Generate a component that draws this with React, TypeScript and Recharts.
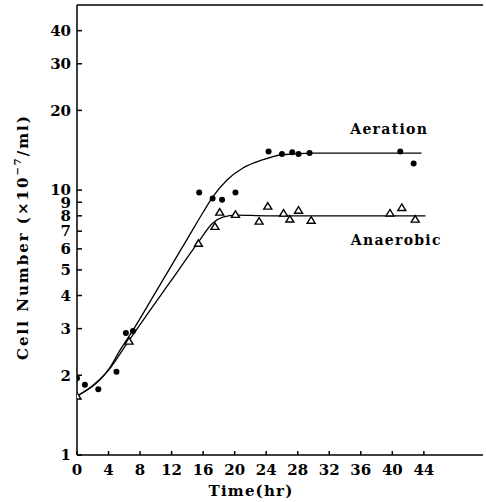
import React from "react";
import { ComposedChart, Line, Scatter, XAxis, YAxis, ReferenceDot, ReferenceLine } from "recharts";

// measured points (time in hr, cells x10^-7/ml)
const aerationPts = [
  { t: 0, v: 1.95 }, { t: 1, v: 1.84 }, { t: 2.7, v: 1.77 }, { t: 5, v: 2.06 },
  { t: 6.2, v: 2.89 }, { t: 7.1, v: 2.94 }, { t: 15.5, v: 9.8 }, { t: 17.2, v: 9.3 },
  { t: 18.4, v: 9.2 }, { t: 20.1, v: 9.8 }, { t: 24.3, v: 14.0 }, { t: 26, v: 13.7 },
  { t: 27.3, v: 13.9 }, { t: 28.1, v: 13.7 }, { t: 29.5, v: 13.8 }, { t: 41, v: 14.0 },
  { t: 42.7, v: 12.6 },
];

const anaerobicPts = [
  { t: 0, v: 1.67 }, { t: 6.6, v: 2.69 }, { t: 15.4, v: 6.3 }, { t: 17.5, v: 7.3 },
  { t: 18.1, v: 8.26 }, { t: 20.1, v: 8.1 }, { t: 23.1, v: 7.64 }, { t: 24.2, v: 8.7 },
  { t: 26.2, v: 8.19 }, { t: 27, v: 7.78 }, { t: 28.1, v: 8.4 }, { t: 29.7, v: 7.7 },
  { t: 39.7, v: 8.2 }, { t: 41.2, v: 8.6 }, { t: 42.9, v: 7.77 },
];

// hand-drawn fit curves
const aerationFit = [
  { t: 0, v: 1.67 }, { t: 2, v: 1.83 }, { t: 4, v: 2.1 }, { t: 5.5, v: 2.5 },
  { t: 7.1, v: 2.96 }, { t: 10, v: 4.13 }, { t: 12, v: 5.2 }, { t: 14, v: 6.55 },
  { t: 16, v: 8.25 }, { t: 17.2, v: 9.41 }, { t: 19, v: 10.9 }, { t: 21, v: 12.1 },
  { t: 23.5, v: 13.0 }, { t: 26, v: 13.6 }, { t: 30, v: 13.8 }, { t: 43.7, v: 13.8 },
];

const anaerobicFit = [
  { t: 0, v: 1.67 }, { t: 2.4, v: 1.86 }, { t: 4, v: 2.09 }, { t: 6.45, v: 2.67 },
  { t: 9.6, v: 3.63 }, { t: 11.8, v: 4.49 }, { t: 15.3, v: 6.31 }, { t: 17.2, v: 7.5 },
  { t: 18.5, v: 7.91 }, { t: 20.2, v: 8.05 }, { t: 24, v: 8.0 }, { t: 44.2, v: 8.0 },
];

const xTicks = [0, 4, 8, 12, 16, 20, 24, 28, 32, 36, 40, 44];
const yTicks = [1, 2, 3, 4, 5, 6, 7, 8, 9, 10, 20, 30, 40];

const font = "'DejaVu Serif', 'Liberation Serif', serif";
const tickStyle = { fill: "#000", fontSize: 15, fontWeight: "bold", fontFamily: font };

const Dot = (props: any) => <circle cx={props.cx} cy={props.cy} r={3} fill="#000" />;

const Tri = (props: any) => {
  const { cx, cy } = props;
  return (
    <path
      d={`M${cx},${cy - 3.5} L${cx + 4},${cy + 3} L${cx - 4},${cy + 3} Z`}
      fill="#fff"
      stroke="#000"
      strokeWidth={1.4}
    />
  );
};

const YLabel = () => (
  <text
    x={23}
    y={237}
    transform="rotate(-90 23 237)"
    textAnchor="middle"
    dominantBaseline="central"
    fontFamily={font}
    fontWeight="bold"
    fontSize={15}
    letterSpacing={2}
    fill="#000"
  >
    Cell Number (×10<tspan fontSize={10} dy={-6}>−7</tspan>
    <tspan dy={6}>/ml)</tspan>
  </text>
);

const XLabel = () => (
  <text
    x={251}
    y={491}
    textAnchor="middle"
    dominantBaseline="central"
    fontFamily={font}
    fontWeight="bold"
    fontSize={15}
    letterSpacing={1.2}
    fill="#000"
  >
    Time(hr)
  </text>
);

const seriesLabel = (value: string) => ({
  value,
  position: "center" as const,
  fontSize: 14,
  fontWeight: "bold",
  fontFamily: font,
  fill: "#000",
  letterSpacing: 1.3,
});

export default function App() {
  return (
    <div style={{ position: "absolute", left: 0, top: 0, background: "#fff" }}>
      <ComposedChart width={486} height={502} margin={{ top: 5, right: 3, left: 0, bottom: 0 }}>
        <XAxis
          type="number"
          dataKey="t"
          domain={[0, 51.5]}
          ticks={xTicks}
          interval={0}
          allowDataOverflow
          stroke="#000"
          strokeWidth={1.5}
          tickSize={-4}
          tickMargin={13}
          tick={tickStyle}
          height={47}
          label={() => <XLabel />}
        />
        <YAxis
          type="number"
          dataKey="v"
          scale="log"
          domain={[1, 50]}
          ticks={yTicks}
          interval={0}
          allowDataOverflow
          stroke="#000"
          strokeWidth={1.5}
          tickSize={-5}
          tickMargin={11}
          tick={tickStyle}
          width={77}
          label={() => <YLabel />}
        />
        <ReferenceLine y={50} stroke="#000" strokeWidth={1.5} />
        <Line data={aerationFit} dataKey="v" type="monotone" stroke="#000" strokeWidth={1.3} dot={false} isAnimationActive={false} />
        <Line data={anaerobicFit} dataKey="v" type="monotone" stroke="#000" strokeWidth={1.3} dot={false} isAnimationActive={false} />
        <Scatter data={aerationPts} dataKey="v" shape={Dot} isAnimationActive={false} />
        <Scatter data={anaerobicPts} dataKey="v" shape={Tri} isAnimationActive={false} />
        <ReferenceDot x={39.6} y={17} r={0} fill="none" stroke="none" label={seriesLabel("Aeration")} />
        <ReferenceDot x={40.5} y={6.5} r={0} fill="none" stroke="none" label={seriesLabel("Anaerobic")} />
      </ComposedChart>
    </div>
  );
}
